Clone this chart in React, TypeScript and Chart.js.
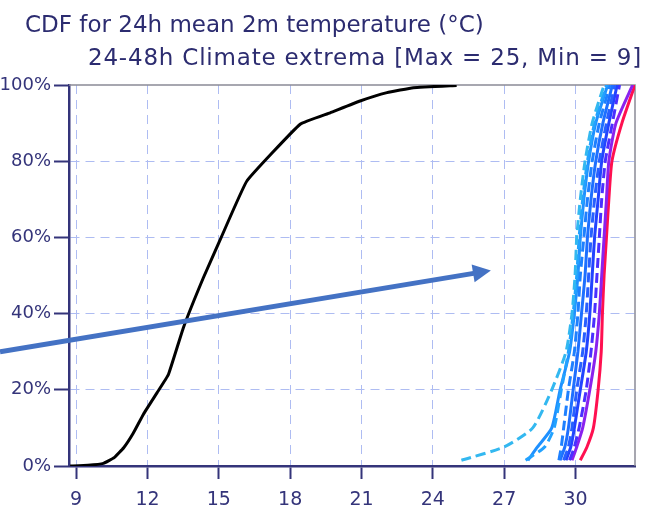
import React, { useEffect, useRef } from "react";
import { Chart, registerables } from "chart.js";

Chart.register(...registerables);

// ---- data ----
const titleLine1 = "CDF for 24h mean 2m temperature (°C)";
const titleLine2 = "24-48h Climate extrema [Max = 25, Min = 9]";

const xTickValues = [9, 12, 15, 18, 21, 24, 27, 30];
const yTickValues = [0, 20, 40, 60, 80, 100];

// climate CDF (black)
const climateX = [8.75, 9.5, 10.15, 10.6, 11.0, 11.4, 11.83, 12.4, 12.88, 13.51, 14.35, 15.1, 16.18, 18.42, 19.68, 20.94, 22.07, 23.18, 25.0];
const climateY = [0, 0.2, 0.7, 2.2, 4.8, 8.6, 13.6, 19.2, 24, 36.3, 49.4, 60, 74.8, 89.7, 92.7, 95.8, 98, 99.3, 99.9];

// percent levels shared by ensemble CDFs
const ensLevels = [1.5, 5, 10, 20, 30, 40, 50, 60, 70, 80, 90, 100];

// ensemble CDFs (x-values at each level), lightest/oldest first, red/latest last
const ens10 = [25.2, 27.0, 28.2, 29.0, 29.6, 29.85, 29.98, 30.05, 30.2, 30.4, 30.7, 31.2];
const ens9 = [27.9, 28.7, 29.1, 29.4, 29.7, 29.9, 30.05, 30.15, 30.3, 30.5, 30.8, 31.3];
const ens8 = [28.0, 28.4, 29.0, 29.35, 29.75, 29.95, 30.1, 30.2, 30.35, 30.55, 30.85, 31.35];
const ens7 = [29.3, 29.4, 29.5, 29.7, 29.95, 30.1, 30.2, 30.35, 30.5, 30.7, 31.0, 31.45];
const ens6 = [29.35, 29.55, 29.7, 29.9, 30.1, 30.25, 30.4, 30.5, 30.65, 30.85, 31.15, 31.55];
const ens5 = [29.5, 29.7, 29.85, 30.05, 30.3, 30.45, 30.55, 30.65, 30.8, 31.0, 31.3, 31.65];
const ens4 = [29.6, 29.8, 29.95, 30.2, 30.45, 30.6, 30.7, 30.8, 30.95, 31.1, 31.4, 31.75];
const ens3 = [29.75, 29.95, 30.15, 30.45, 30.65, 30.8, 30.9, 31.0, 31.1, 31.25, 31.55, 31.85];
const ens2 = [29.85, 30.05, 30.3, 30.6, 30.85, 31.0, 31.1, 31.2, 31.3, 31.4, 31.7, 32.4];
const ens1 = [30.2, 30.48, 30.75, 30.95, 31.08, 31.13, 31.2, 31.3, 31.4, 31.53, 31.95, 32.5];

const ensSeries = [ens10, ens9, ens8, ens7, ens6, ens5, ens4, ens3, ens2, ens1];
const ensColors = ["#33b8f0", "#22a2ff", "#1e90ff", "#1e80ff", "#1e70ff", "#2860ff", "#2244ff", "#4a30ff", "#8a22ee", "#ff1050"];
const ensDashed = [true, true, false, true, false, true, false, true, false, false];

// annotation arrow, in data units [x, y%]
const arrowFrom = [5.8, 30.0];
const arrowTo = [26.44, 51.3];

const navy = "#34347a";
const gridColor = "#aebcf2";

const titlePlugin = {
  id: "customTitle",
  afterDraw(chart: any) {
    const ctx = chart.ctx;
    ctx.save();
    ctx.fillStyle = "#2c2c70";
    ctx.font = '23px "DejaVu Sans"';
    ctx.textBaseline = "alphabetic";
    ctx.textAlign = "left";
    ctx.fillText(titleLine1, 25, 32);
    (ctx as any).letterSpacing = "0.8px";
    ctx.fillText(titleLine2, 88, 65);
    ctx.restore();
  },
};

const framePlugin = {
  id: "frame",
  beforeDatasetsDraw(chart: any) {
    const { ctx, chartArea } = chart;
    ctx.save();
    ctx.strokeStyle = "#8a8a96";
    ctx.lineWidth = 1.5;
    ctx.beginPath();
    ctx.moveTo(chartArea.left, chartArea.top);
    ctx.lineTo(chartArea.right, chartArea.top);
    ctx.lineTo(chartArea.right, chartArea.bottom);
    ctx.stroke();
    ctx.restore();
  },
};

const arrowPlugin = {
  id: "arrow",
  afterDraw(chart: any) {
    const { ctx } = chart;
    const xs = chart.scales.x;
    const ys = chart.scales.y;
    const x1 = xs.getPixelForValue(arrowFrom[0]);
    const y1 = ys.getPixelForValue(arrowFrom[1]);
    const x2 = xs.getPixelForValue(arrowTo[0]);
    const y2 = ys.getPixelForValue(arrowTo[1]);
    const ang = Math.atan2(y2 - y1, x2 - x1);
    const headLen = 18;
    const headHalf = 9;
    const bx = x2 - headLen * Math.cos(ang);
    const by = y2 - headLen * Math.sin(ang);
    ctx.save();
    ctx.strokeStyle = "#4472c4";
    ctx.fillStyle = "#4472c4";
    ctx.lineWidth = 5;
    ctx.beginPath();
    ctx.moveTo(x1, y1);
    ctx.lineTo(bx + 2 * Math.cos(ang), by + 2 * Math.sin(ang));
    ctx.stroke();
    ctx.beginPath();
    ctx.moveTo(x2, y2);
    ctx.lineTo(bx + headHalf * Math.sin(ang), by - headHalf * Math.cos(ang));
    ctx.lineTo(bx - headHalf * Math.sin(ang), by + headHalf * Math.cos(ang));
    ctx.closePath();
    ctx.fill();
    ctx.restore();
  },
};

export default function App() {
  const canvasRef = useRef<HTMLCanvasElement | null>(null);

  useEffect(() => {
    if (!canvasRef.current) return;
    const datasets: any[] = ensSeries.map((xs, i) => ({
      label: "ENS " + (ensSeries.length - i),
      data: xs.map((x, j) => ({ x, y: ensLevels[j] })),
      borderColor: ensColors[i],
      borderWidth: 3,
      borderDash: ensDashed[i] ? [10, 5] : [],
      pointRadius: 0,
      fill: false,
      tension: 0.2,
    }));
    datasets.unshift({
      label: "Climate",
      data: climateX.map((x, j) => ({ x, y: climateY[j] })),
      borderColor: "#000000",
      borderWidth: 3,
      pointRadius: 0,
      fill: false,
      tension: 0.1,
    });

    const chart = new Chart(canvasRef.current, {
      type: "line",
      data: { datasets },
      options: {
        animation: false,
        responsive: false,
        layout: { padding: { top: 85, right: 19, left: 0, bottom: 0 } },
        plugins: {
          legend: { display: false },
          title: { display: false },
          tooltip: { enabled: false },
        },
        scales: {
          x: {
            type: "linear",
            min: 8.7,
            max: 32.5,
            afterBuildTicks: (scale: any) => {
              scale.ticks = xTickValues.map((v) => ({ value: v }));
            },
            afterFit: (scale: any) => {
              scale.height = 54;
            },
            ticks: {
              color: navy,
              font: { family: "DejaVu Sans", size: 19 },
              padding: 10,
              maxRotation: 0,
              autoSkip: false,
              callback: (v: any) => String(v),
            },
            grid: {
              color: gridColor,
              lineWidth: 1,
              tickColor: navy,
              tickLength: 13,
              tickWidth: 2,
            },
            border: { color: navy, width: 2.5, dash: [9, 6] },
          },
          y: {
            type: "linear",
            min: 0,
            max: 100,
            afterBuildTicks: (scale: any) => {
              scale.ticks = yTickValues.map((v) => ({ value: v }));
            },
            afterFit: (scale: any) => {
              scale.width = 69;
            },
            ticks: {
              color: navy,
              font: { family: "DejaVu Sans", size: 18 },
              padding: 3,
              callback: (v: any) => v + "%",
            },
            grid: {
              color: (c: any) => (c.tick && c.tick.value === 100 ? "rgba(0,0,0,0)" : gridColor),
              lineWidth: 1,
              tickColor: navy,
              tickLength: 15,
              tickWidth: 2,
            },
            border: { color: navy, width: 2.5, dash: [9, 6] },
          },
        },
      },
      plugins: [framePlugin, titlePlugin, arrowPlugin],
    });
    return () => chart.destroy();
  }, []);

  return (
    <div style={{ position: "absolute", left: 0, top: 0, width: 654, height: 520, background: "#ffffff" }}>
      <canvas ref={canvasRef} width={654} height={520} style={{ display: "block" }} />
    </div>
  );
}
